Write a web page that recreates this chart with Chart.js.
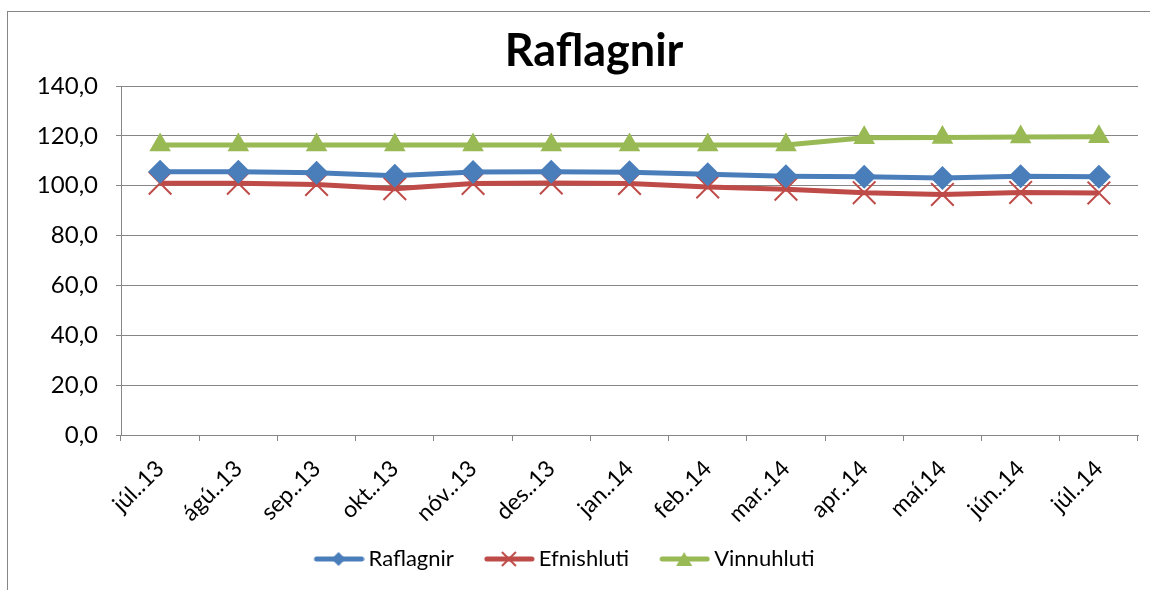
<!DOCTYPE html>
<html>
<head>
<meta charset="utf-8">
<script src="https://cdn.jsdelivr.net/npm/chart.js@4/dist/chart.umd.min.js"></script>
<style>
  html, body { margin: 0; padding: 0; background: #fff; }
  #wrap { position: relative; width: 1150px; height: 590px; }
</style>
</head>
<body>
<div id="wrap"><canvas id="chart" width="1150" height="590"></canvas></div>
<script>
// Month labels as they appear on the x axis
const labels = ['júl..13', 'ágú..13', 'sep..13', 'okt..13', 'nóv..13', 'des..13',
                'jan..14', 'feb..14', 'mar..14', 'apr..14', 'maí.14', 'jún..14', 'júl..14']

// Index values
const raflagnir = [105.6, 105.6, 105.2, 104.0, 105.5, 105.6, 105.4, 104.6, 103.8, 103.6, 103.1, 103.8, 103.6]
const efnishluti = [101.0, 101.0, 100.5, 98.8, 100.9, 101.1, 100.9, 99.5, 98.6, 97.2, 96.5, 97.3, 97.1]
const vinnuhluti = [116.3, 116.3, 116.3, 116.3, 116.3, 116.3, 116.3, 116.3, 116.3, 119.2, 119.3, 119.5, 119.6]

const FONT = "Lato, 'Open Sans', sans-serif"
const BLUE = '#4A7EBB', RED = '#BE4B48', GREEN = '#98B954'

// Legend swatch: a short thick line with a small marker on it.  The image has a
// transparent strip on the left so the legend spacing comes out like Excel's.
function legend_swatch(color, style) {
    let c = document.createElement('canvas')
    c.width = 78
    c.height = 24
    let ctx = c.getContext('2d')
    let x0 = 27, x1 = 78, mid = 52
    ctx.strokeStyle = color
    ctx.lineWidth = 5
    ctx.lineCap = 'round'
    ctx.beginPath()
    ctx.moveTo(x0 + 3, 12)
    ctx.lineTo(x1 - 3, 12)
    ctx.stroke()
    ctx.fillStyle = color
    ctx.beginPath()
    if (style == 'diamond') {
        ctx.moveTo(mid, 5); ctx.lineTo(mid + 7, 12); ctx.lineTo(mid, 19); ctx.lineTo(mid - 7, 12)
        ctx.closePath(); ctx.fill()
    } else if (style == 'cross') {
        ctx.lineWidth = 2
        ctx.lineCap = 'butt'
        ctx.moveTo(mid - 7, 5); ctx.lineTo(mid + 7, 19)
        ctx.moveTo(mid + 7, 5); ctx.lineTo(mid - 7, 19)
        ctx.stroke()
    } else {
        ctx.moveTo(mid, 5); ctx.lineTo(mid + 8, 19); ctx.lineTo(mid - 8, 19)
        ctx.closePath(); ctx.fill()
    }
    return c
}

const swatches = [legend_swatch(BLUE, 'diamond'), legend_swatch(RED, 'cross'), legend_swatch(GREEN, 'triangle')]

// Outer frame of the chart object, cut off at the right and bottom
const framePlugin = {
    id: 'frame',
    beforeDraw(chart) {
        let ctx = chart.ctx
        ctx.save()
        ctx.strokeStyle = '#868686'
        ctx.lineWidth = 1
        ctx.strokeRect(7.5, 11.5, 1300, 800)
        ctx.restore()
    }
}

// Excel centres the legend a bit left of the title; nudge the legend box over
const legendNudge = {
    id: 'legendNudge',
    afterLayout(chart) {
        chart.legend.left -= 40
        chart.legend.right -= 40
    }
}

new Chart(document.getElementById('chart'), {
    type: 'line',
    data: {
        labels,
        datasets: [
            { label: 'Raflagnir', data: raflagnir, borderColor: BLUE, backgroundColor: BLUE,
              borderWidth: 5, pointStyle: 'rectRot', pointRadius: 12, pointBorderWidth: 0 },
            { label: 'Efnishluti', data: efnishluti, borderColor: RED, backgroundColor: RED,
              borderWidth: 5, pointStyle: 'crossRot', pointRadius: 16, pointBorderWidth: 2 },
            { label: 'Vinnuhluti', data: vinnuhluti, borderColor: GREEN, backgroundColor: GREEN,
              borderWidth: 5, pointStyle: 'triangle', pointRadius: 12.5, pointBorderWidth: 0 }
        ]
    },
    plugins: [framePlugin, legendNudge],
    options: {
        responsive: false,
        animation: false,
        // big markers would otherwise pull the plot in from the right
        layout: { autoPadding: false, padding: { left: 38, right: 0, top: 0, bottom: 10 } },
        plugins: {
            title: {
                display: true,
                text: 'Raflagnir',
                color: '#000',
                font: { family: FONT, size: 45, weight: 'bold' },
                padding: { top: 24, bottom: 8 }
            },
            legend: {
                position: 'bottom',
                labels: {
                    color: '#000',
                    font: { family: FONT, size: 22 },
                    usePointStyle: true,
                    pointStyleWidth: 64,
                    boxHeight: 22,
                    padding: 10,
                    generateLabels(chart) {
                        return chart.data.datasets.map((ds, i) => ({
                            text: ds.label,
                            pointStyle: swatches[i],
                            fontColor: '#000',
                            lineWidth: 0,
                            datasetIndex: i
                        }))
                    }
                }
            },
            tooltip: { enabled: false }
        },
        scales: {
            x: {
                offset: true,
                grid: { display: true, drawOnChartArea: false, drawTicks: true, tickLength: 6, color: '#868686', offset: true },
                border: { color: '#868686' },
                ticks: {
                    color: '#000',
                    font: { family: FONT, size: 23 },
                    minRotation: 45,
                    maxRotation: 45,
                    padding: 14,
                    autoSkip: false
                },
                afterFit(scale) {
                    scale.height = 103
                    // keep the plot's right edge where Excel has it
                    scale.paddingRight = 12
                    scale.paddingLeft = 0
                }
            },
            y: {
                min: 0,
                max: 140,
                grid: { color: '#868686', tickLength: 5 },
                border: { color: '#868686' },
                ticks: {
                    stepSize: 20,
                    color: '#000',
                    font: { family: FONT, size: 24 },
                    padding: 18,
                    callback: v => v.toFixed(1).replace('.', ',')
                },
                afterFit(scale) { scale.width = 83 }
            }
        }
    }
})
</script>
</body>
</html>
